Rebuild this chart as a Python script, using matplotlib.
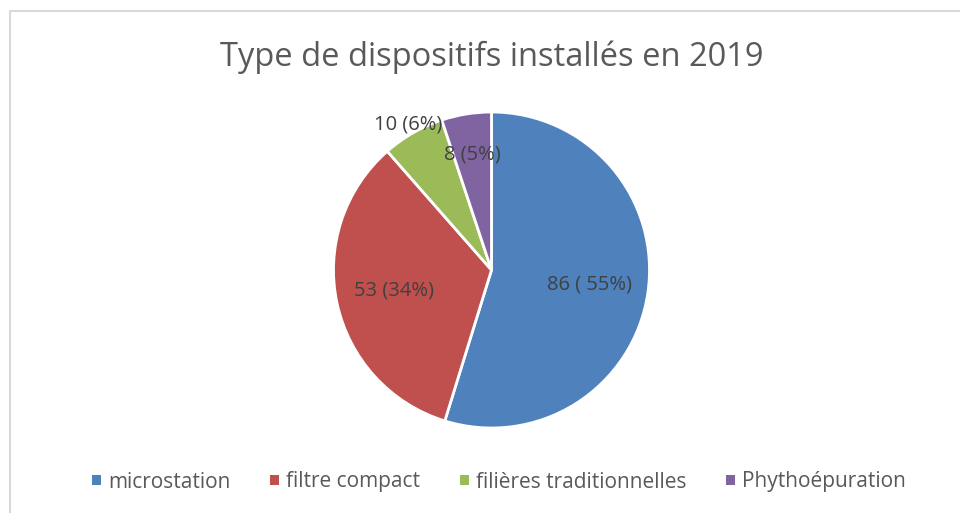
import matplotlib.pyplot as plt
import numpy as np
from matplotlib.patches import Rectangle

categories = ["microstation", "filtre compact", "filières traditionnelles", "Phythoépuration"]
values = [86, 53, 10, 8]
value_labels = ["86 ( 55%)", "53 (34%)", "10 (6%)", "8 (5%)"]
colors = ["#4F81BD", "#C0504D", "#9BBB59", "#8064A2"]
label_dist = [0.63, 0.63, 1.06, 0.74]

plt.rcParams["font.family"] = ["Open Sans", "DejaVu Sans"]

W, H = 960, 513
fig = plt.figure(figsize=(W / 100, H / 100), dpi=100)
fig.patch.set_facecolor("white")

# chart frame (extends past the right and bottom edges)
fig.patches.append(Rectangle((10 / W, -0.05), 1.1, 1 - 11 / H + 0.05,
                             transform=fig.transFigure, fill=False,
                             edgecolor="#D9D9D9", linewidth=1.5))

cx, cy, r = 491.5, 270, 158
ax = fig.add_axes([(cx - r) / W, (H - cy - r) / H, 2 * r / W, 2 * r / H])
wedges, _ = ax.pie(values, colors=colors, startangle=90, counterclock=False,
                   wedgeprops=dict(edgecolor="white", linewidth=2))
ax.set_xlim(-1, 1)
ax.set_ylim(-1, 1)
ax.set_aspect("equal")

for w, txt, d in zip(wedges, value_labels, label_dist):
    ang = np.deg2rad((w.theta1 + w.theta2) / 2)
    ax.text(d * np.cos(ang), d * np.sin(ang), txt, ha="center", va="center",
            fontsize=14.5, color="#404040")

fig.text(cx / W, 1 - 57 / H, "Type de dispositifs installés en 2019",
         ha="center", va="center", fontsize=23.5, color="#595959")

leg = fig.legend(wedges, categories, loc="center", bbox_to_anchor=(0.52, 1 - 482 / H),
                 ncol=4, frameon=False, fontsize=15, handlelength=0.42, handleheight=0.42,
                 handletextpad=0.35, columnspacing=1.9, labelcolor="#595959")
for h in leg.legend_handles:
    h.set_edgecolor("none")

fig.savefig("out.png", dpi=100)
